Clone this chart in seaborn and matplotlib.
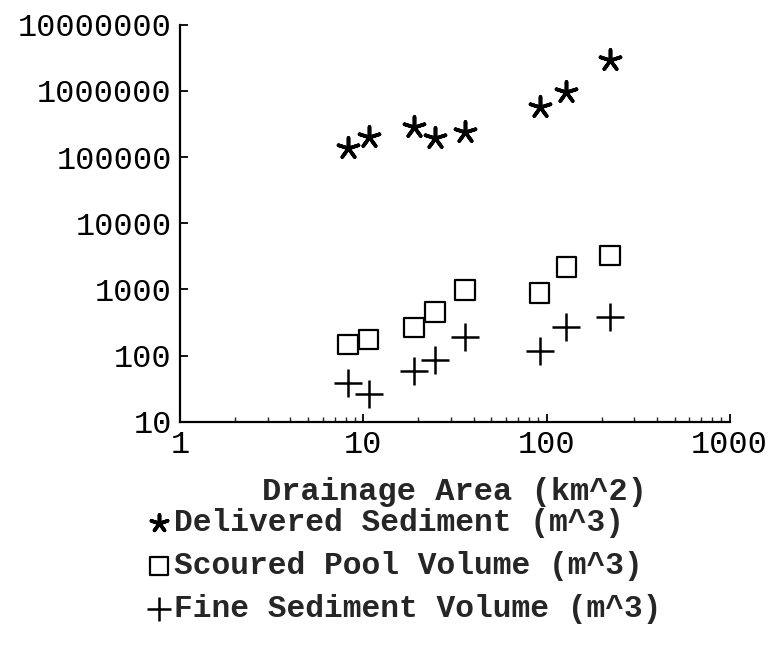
import numpy as np
import pandas as pd
import seaborn as sns
import matplotlib.pyplot as plt
from matplotlib.ticker import LogLocator, FuncFormatter, NullFormatter

sns.set_theme(style="ticks")
plt.rcParams['font.family'] = ['Liberation Mono', 'DejaVu Sans Mono']

# values
area = [8.25, 10.7, 18.9, 24.6, 35.9, 92, 128, 222]
delivered = [138000, 202000, 286000, 195000, 240000, 575000, 966000, 2940000]
pool = [146, 173, 263, 457, 980, 886, 2190, 3230]
fine = [39, 26.5, 59, 87, 192, 118, 272, 387]

x_ticks = [1, 10, 100, 1000]
y_ticks = [10, 100, 1000, 10000, 100000, 1000000, 10000000]

fig = plt.figure(figsize=(7.73, 6.52), dpi=100)
ax = fig.add_axes([0.233, 0.353, 0.711, 0.609])

sns.scatterplot(x=area, y=delivered, marker=(5, 2, 0), s=230, color='black',
                linewidth=2.6, ax=ax, label='Delivered Sediment (m^3)')
sns.scatterplot(x=area, y=pool, marker='s', s=190, facecolor='none', edgecolor='black',
                linewidth=1.6, ax=ax, label='Scoured Pool Volume (m^3)')
sns.scatterplot(x=area, y=fine, marker='+', s=380, color='black',
                linewidth=1.8, ax=ax, label='Fine Sediment Volume (m^3)')

ax.set_xscale('log')
ax.set_yscale('log')
ax.set_xlim(1, 1000)
ax.set_ylim(10, 10000000)
ax.set_xticks(x_ticks)
ax.set_yticks(y_ticks)
fmt = FuncFormatter(lambda v, p: '%d' % round(v))
ax.xaxis.set_major_formatter(fmt)
ax.yaxis.set_major_formatter(fmt)
ax.xaxis.set_minor_locator(LogLocator(base=10, subs=np.arange(2, 10)))
ax.yaxis.set_minor_locator(LogLocator(base=10, subs=np.arange(2, 10)))
ax.xaxis.set_minor_formatter(NullFormatter())
ax.yaxis.set_minor_formatter(NullFormatter())
ax.tick_params(which='major', direction='in', length=6, width=1.3, labelsize=23, pad=6, colors='black')
ax.tick_params(which='minor', direction='in', length=3.5, width=1.0)
sns.despine(ax=ax)
for s in ['left', 'bottom']:
    ax.spines[s].set_linewidth(1.6)
    ax.spines[s].set_color('black')

ax.set_xlabel('Drainage Area (km^2)', fontsize=23, fontweight='bold')
ax.xaxis.set_label_coords(0.5, -0.14)

leg = ax.legend(loc='upper left', bbox_to_anchor=(-0.09, -0.185), frameon=False,
                prop={'size': 22.5, 'weight': 'bold'}, handletextpad=0.0, handlelength=1.0,
                labelspacing=0.42, borderaxespad=0)
for h, sz in zip(leg.legend_handles, [150, 160, 300]):
    h.set_sizes([sz])

fig.savefig('out.png', dpi=100)
